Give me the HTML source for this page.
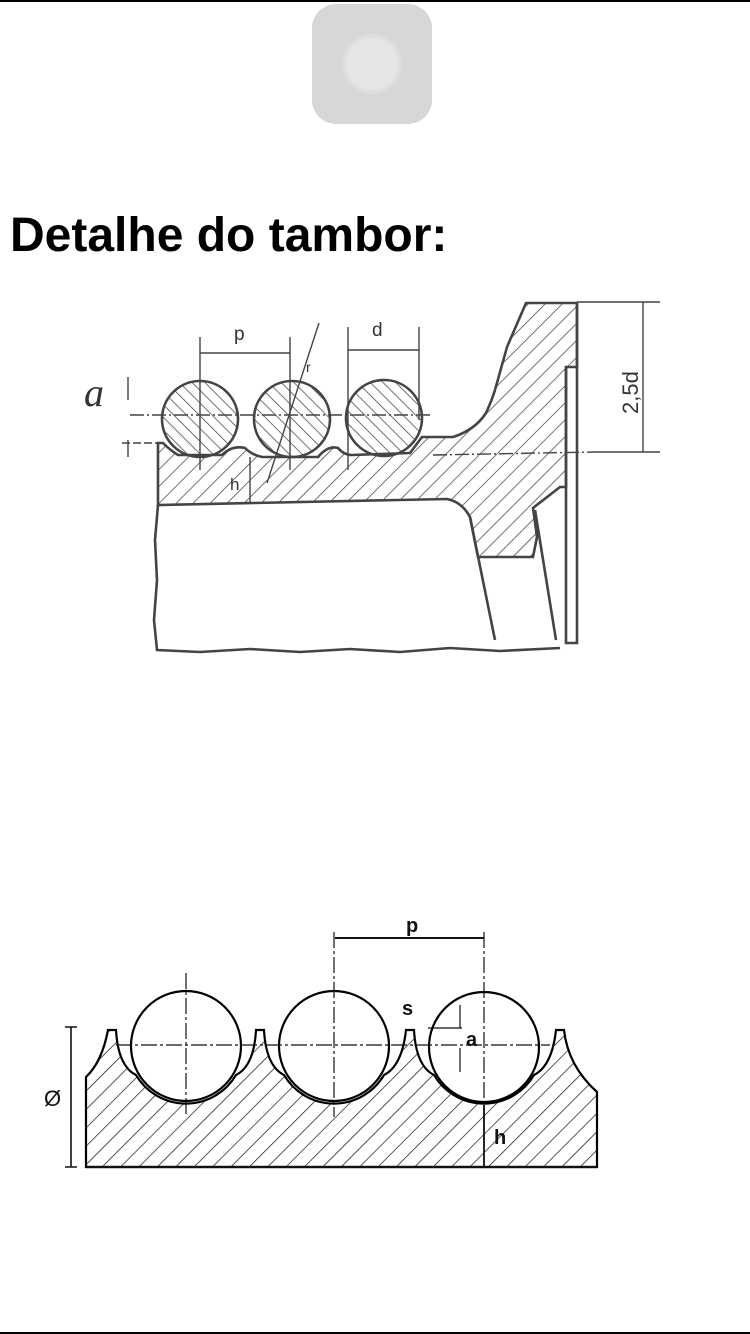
<!DOCTYPE html>
<html><head><meta charset="utf-8"><style>
html,body{margin:0;padding:0;background:#fff;}
body{width:750px;height:1334px;position:relative;overflow:hidden;font-family:"Liberation Sans",sans-serif;}
.bar{position:absolute;left:0;width:750px;height:2px;background:#000;}
.icon{position:absolute;left:312px;top:4px;width:120px;height:120px;border-radius:24px;background:#d7d7d7;}
.icon div{position:absolute;left:30px;top:30px;width:60px;height:60px;border-radius:50%;background:radial-gradient(circle,#e6e6e6 0 62%,#dedede 63% 80%,#dadada 81%);}
h1{position:absolute;left:10px;top:212px;margin:0;font-size:48px;line-height:1;font-weight:bold;color:#000;}
svg{position:absolute;left:0;top:0;}
</style></head><body>
<div class="bar" style="top:0"></div>
<div class="bar" style="top:1332px"></div>
<div class="icon"><div></div></div>
<h1>Detalhe do tambor:</h1>
<svg width="750" height="1334" viewBox="0 0 750 1334">
<defs>
<pattern id="h1" width="12" height="12" patternUnits="userSpaceOnUse" patternTransform="rotate(45)"><line x1="0" y1="0" x2="0" y2="12" stroke="#444" stroke-width="1.5"/></pattern>
<pattern id="h2" width="9" height="9" patternUnits="userSpaceOnUse" patternTransform="rotate(-45)"><line x1="0" y1="0" x2="0" y2="9" stroke="#444" stroke-width="1.5"/></pattern>
<pattern id="h3" width="13" height="13" patternUnits="userSpaceOnUse" patternTransform="rotate(45)"><line x1="0" y1="0" x2="0" y2="13" stroke="#111" stroke-width="1.4"/></pattern>
</defs>
<!-- drawing 1 -->
<g stroke="#444" stroke-width="2.6" fill="none">
<path d="M158,443 L163,443 Q170,450 178,455 L222,455 Q232,445 245,448 Q252,455 262,457 L318,457 Q328,445 338,448 Q344,455 352,455 L410,453 L422,437 L453,437 Q475,430 486,413 Q492,400 495,390 L507,347 L526,303 L577,303 L577,367 L566,367 L566,487 L560,487 L533,508 L537,537 L533,557 L478,557 L470,517 Q462,502 447,499 L158,505 Z" fill="url(#h1)"/>
<path d="M577,303 L577,643 L566,643 L566,367"/>
<path d="M535,510 L556,640"/>
<path d="M470,517 L495,640"/>
<path d="M158,505 L155,540 L157,580 L154,620 L157,650 L200,652 L250,649 L300,652 L350,649 L400,652 L450,648 L500,651 L560,648"/>
<circle cx="200" cy="419" r="38" fill="url(#h2)"/>
<circle cx="292" cy="419" r="38" fill="url(#h2)"/>
<circle cx="384" cy="418" r="38" fill="url(#h2)"/>
</g>
<g stroke="#444" stroke-width="1.4" fill="none">
<path d="M130,415 L432,415" stroke-dasharray="14,3,2,3"/>
<path d="M122,443 L160,443" stroke-dasharray="8,3"/>
<path d="M433,455 L595,452" stroke-dasharray="14,3,2,3"/>
<path d="M200,337 V470 M290,337 V470 M348,327 V470 M419,327 V420 M200,353 H290 M348,350 H419"/>
<path d="M319,323 L267,483"/>
<path d="M128,377 V400 M128,440 V457"/>
<path d="M250,457 V502"/>
<path d="M577,302 H660 M595,452 H660 M643,302 V452"/>
</g>
<g font-family="Liberation Sans,sans-serif" fill="#333" font-size="19">
<text x="234" y="340">p</text>
<text x="372" y="336">d</text>
<text x="306" y="372" font-size="14">r</text>
<text x="230" y="490" font-size="17">h</text>
<text x="84" y="406" font-size="40" font-family="Liberation Serif,serif" font-style="italic">a</text>
<text x="0" y="0" transform="translate(638,414) rotate(-90)" font-size="22">2,5d</text>
</g>
<!-- drawing 2 -->
<path d="M86,1077 Q102,1062 108,1030 L116,1030 Q118,1066 136,1075 A58,58 0 0 0 236,1075 Q254,1066 256,1030 L264,1030 Q266,1066 284,1075 A58,58 0 0 0 384,1075 Q402,1066 406,1030 L414,1030 Q416,1066 434,1075 A58,58 0 0 0 534,1075 Q552,1066 556,1030 L564,1030 Q568,1066 597,1092 L597,1167 L86,1167 Z" fill="url(#h3)" stroke="#000" stroke-width="2.2"/>
<g stroke="#000" stroke-width="2.2" fill="#fff">
<circle cx="186" cy="1046" r="55"/>
<circle cx="334" cy="1046" r="55"/>
<circle cx="484" cy="1047" r="55"/>
</g>
<g stroke="#111" stroke-width="1.2" fill="none">
<path d="M116,1045 H550" stroke-dasharray="16,3,3,3"/>
<path d="M186,973 V1117 M334,932 V1117 M484,932 V1167" stroke-dasharray="16,3,3,3"/>
<path d="M335,938 H484" stroke-width="2"/>
<path d="M428,1028 H462 M460,1005 V1028 M460,1048 V1072"/>
<path d="M484,1105 V1167" stroke-width="1.8"/>
<path d="M71,1027 V1167 M65,1027 H77 M65,1167 H77" stroke-width="1.6"/>
<path d="M86,1167 H597" stroke-width="2.2"/>
</g>
<g font-family="Liberation Sans,sans-serif" fill="#111" font-size="20" font-weight="bold">
<text x="406" y="932">p</text>
<text x="402" y="1015">s</text>
<text x="466" y="1046">a</text>
<text x="494" y="1144">h</text>
<text x="44" y="1106" font-weight="normal" font-size="22">Ø</text>
</g>
</svg>
</body></html>
